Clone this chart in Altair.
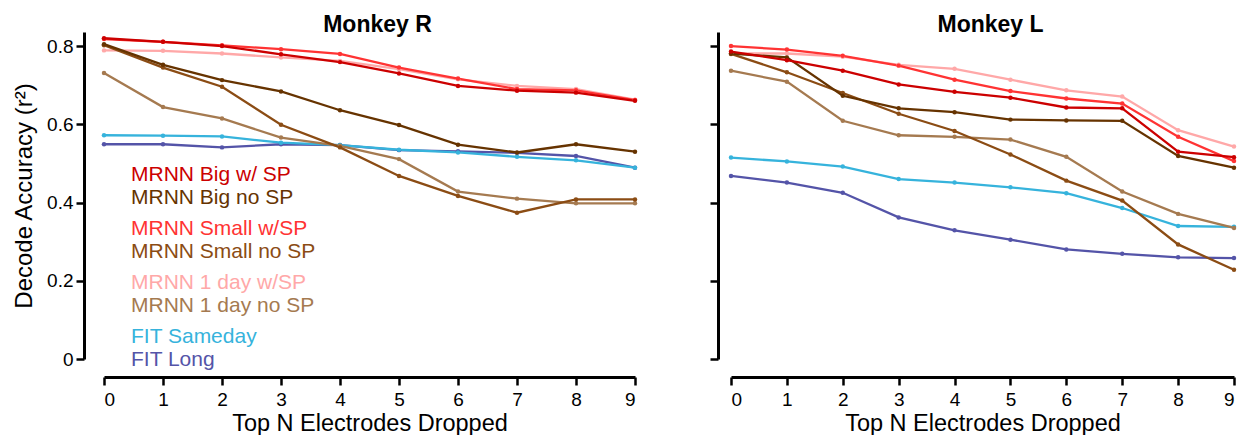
import altair as alt
import pandas as pd

# ---------------- data ----------------
x_vals = list(range(10))
series_names = [
    "MRNN Big w/ SP", "MRNN Big no SP",
    "MRNN Small w/SP", "MRNN Small no SP",
    "MRNN 1 day w/SP", "MRNN 1 day no SP",
    "FIT Sameday", "FIT Long",
]
series_colors = ["#cc0000", "#663300", "#ff3333", "#8b4c14",
                 "#ffa8a8", "#a57a50", "#36b3dc", "#5454a8"]

# Monkey R
R_big_sp     = [0.820, 0.811, 0.800, 0.779, 0.759, 0.730, 0.698, 0.686, 0.681, 0.660]
R_big_nosp   = [0.805, 0.752, 0.713, 0.684, 0.636, 0.598, 0.548, 0.528, 0.549, 0.530]
R_small_sp   = [0.818, 0.811, 0.802, 0.792, 0.780, 0.745, 0.717, 0.690, 0.687, 0.662]
R_small_nosp = [0.802, 0.745, 0.696, 0.599, 0.541, 0.468, 0.417, 0.374, 0.408, 0.408]
R_day_sp     = [0.789, 0.788, 0.781, 0.771, 0.762, 0.741, 0.715, 0.698, 0.690, 0.663]
R_day_nosp   = [0.731, 0.644, 0.615, 0.566, 0.545, 0.511, 0.428, 0.410, 0.398, 0.398]
R_fit_same   = [0.572, 0.571, 0.569, 0.553, 0.547, 0.535, 0.528, 0.517, 0.508, 0.489]
R_fit_long   = [0.549, 0.549, 0.541, 0.549, 0.547, 0.534, 0.531, 0.527, 0.519, 0.489]

# Monkey L
L_big_sp     = [0.786, 0.764, 0.737, 0.702, 0.683, 0.668, 0.643, 0.641, 0.530, 0.516]
L_big_nosp   = [0.781, 0.771, 0.673, 0.641, 0.631, 0.612, 0.610, 0.609, 0.519, 0.489]
L_small_sp   = [0.800, 0.791, 0.775, 0.750, 0.714, 0.685, 0.666, 0.653, 0.568, 0.506]
L_small_nosp = [0.780, 0.733, 0.680, 0.627, 0.583, 0.523, 0.456, 0.405, 0.293, 0.228]
L_day_sp     = [0.781, 0.781, 0.773, 0.752, 0.742, 0.714, 0.687, 0.671, 0.585, 0.543]
L_day_nosp   = [0.737, 0.709, 0.609, 0.572, 0.568, 0.561, 0.517, 0.428, 0.371, 0.335]
L_fit_same   = [0.515, 0.505, 0.492, 0.460, 0.451, 0.439, 0.424, 0.386, 0.340, 0.338]
L_fit_long   = [0.468, 0.451, 0.425, 0.362, 0.329, 0.305, 0.280, 0.269, 0.260, 0.258]

y_ticks = [0, 0.2, 0.4, 0.6, 0.8]

R_arrays = [R_big_sp, R_big_nosp, R_small_sp, R_small_nosp, R_day_sp, R_day_nosp, R_fit_same, R_fit_long]
L_arrays = [L_big_sp, L_big_nosp, L_small_sp, L_small_nosp, L_day_sp, L_day_nosp, L_fit_same, L_fit_long]

FONT = "Liberation Sans"
H = 327


def panel_df(arrays):
    rows = []
    # draw order: last series first so that "Big w/ SP" ends on top
    for name, ys in reversed(list(zip(series_names, arrays))):
        for xv, yv in zip(x_vals, ys):
            rows.append({"series": name, "x": xv, "y": yv})
    return pd.DataFrame(rows)


color_enc = alt.Color("series:N",
                      scale=alt.Scale(domain=series_names, range=series_colors),
                      legend=None)


def make_panel(arrays, title, width, y_offset, show_y_labels):
    df = panel_df(arrays)
    x_enc = alt.X("x:Q",
                  scale=alt.Scale(domain=[0, 9], nice=False, zero=False),
                  axis=alt.Axis(values=x_vals, format="d", offset=18,
                                title="Top N Electrodes Dropped",
                                titlePadding=2, labelPadding=5))
    y_axis = alt.Axis(values=y_ticks, format="~g", offset=y_offset,
                      labels=show_y_labels,
                      title="Decode Accuracy (r²)" if show_y_labels else None,
                      titlePadding=10, labelPadding=3)
    y_enc = alt.Y("y:Q", scale=alt.Scale(domain=[0, 0.836], nice=False, zero=False),
                  axis=y_axis)
    base = alt.Chart(df)
    lines = base.mark_line(strokeWidth=2.3).encode(x=x_enc, y=y_enc, color=color_enc,
                                                   detail="series:N")
    pts = base.mark_circle(size=20, opacity=1).encode(x=x_enc, y=y_enc, color=color_enc)
    layers = [lines, pts]
    if show_y_labels:
        # legend drawn as coloured text inside the panel
        for i, (lab, col) in enumerate(zip(series_names, series_colors)):
            ypix = 149.4 + 53.9 * (i // 2) + 22.5 * (i % 2)
            t = alt.Chart(pd.DataFrame({"label": [lab]})).mark_text(
                align="left", baseline="alphabetic", font=FONT, fontSize=21, color=col
            ).encode(text="label:N", x=alt.value(27), y=alt.value(ypix))
            layers.append(t)
    return alt.layer(*layers).properties(
        width=width, height=H,
        title=alt.TitleParams(title, font=FONT, fontSize=23, fontWeight="bold",
                              anchor="middle", dx=8, offset=-23, baseline="alphabetic",
                              frame="group", color="black"),
    )


left = make_panel(R_arrays, "Monkey R", 531, 20, True)
right = make_panel(L_arrays, "Monkey L", 503, 13, False)

chart = alt.hconcat(left, right, spacing=68).properties(
    padding={"left": 4, "top": 6, "right": 0, "bottom": 0}
).configure_view(stroke=None).configure_axis(
    domainColor="black", domainWidth=3, tickColor="black", tickWidth=2.5, tickSize=8,
    labelFont=FONT, labelFontSize=19, labelColor="black", grid=False,
    titleFont=FONT, titleFontSize=23.5, titleFontWeight="normal", titleColor="black",
).configure_axisY(
    titleFontSize=24,
)

chart.save("out.html", embed_options={"renderer": "svg", "actions": False})
